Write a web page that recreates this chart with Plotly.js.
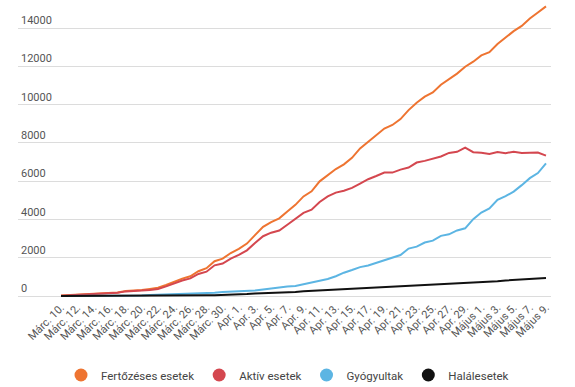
<!DOCTYPE html>
<html>
<head>
<meta charset="utf-8">
<script src="https://cdn.plot.ly/plotly-3.0.1.min.js"></script>
<style>
  html, body { margin: 0; padding: 0; background: #fff; }
  #chart { width: 575px; height: 387px; }
</style>
</head>
<body>
<div id="chart"></div>
<script>
// Dates (daily, Márc. 10. – Május 9.)
const dates = [
  "Márc. 10.","Márc. 11.","Márc. 12.","Márc. 13.","Márc. 14.","Márc. 15.","Márc. 16.","Márc. 17.","Márc. 18.","Márc. 19.",
  "Márc. 20.","Márc. 21.","Márc. 22.","Márc. 23.","Márc. 24.","Márc. 25.","Márc. 26.","Márc. 27.","Márc. 28.","Márc. 29.",
  "Márc. 30.","Márc. 31.",
  "Apr. 1.","Apr. 2.","Apr. 3.","Apr. 4.","Apr. 5.","Apr. 6.","Apr. 7.","Apr. 8.","Apr. 9.","Apr. 10.",
  "Apr. 11.","Apr. 12.","Apr. 13.","Apr. 14.","Apr. 15.","Apr. 16.","Apr. 17.","Apr. 18.","Apr. 19.","Apr. 20.",
  "Apr. 21.","Apr. 22.","Apr. 23.","Apr. 24.","Apr. 25.","Apr. 26.","Apr. 27.","Apr. 28.","Apr. 29.","Apr. 30.",
  "Május 1.","Május 2.","Május 3.","Május 4.","Május 5.","Május 6.","Május 7.","Május 8.","Május 9."
];

// Labelled ticks (every second day)
const tickLabels = [
  "Márc. 10.","Márc. 12.","Márc. 14.","Márc. 16.","Márc. 18.","Márc. 20.","Márc. 22.","Márc. 24.","Márc. 26.","Márc. 28.","Márc. 30.",
  "Apr. 1.","Apr. 3.","Apr. 5.","Apr. 7.","Apr. 9.","Apr. 11.","Apr. 13.","Apr. 15.","Apr. 17.","Apr. 19.","Apr. 21.",
  "Apr. 23.","Apr. 25.","Apr. 27.","Apr. 29.","Május 1.","Május 3.","Május 5.","Május 7.","Május 9."
];

const yTicks = [0, 2000, 4000, 6000, 8000, 10000, 12000, 14000];

// Fertőzéses esetek (confirmed cases)
const fertozeses = [
  25, 45, 49, 89, 123, 131, 158, 184, 260, 277,
  308, 367, 433, 576, 762, 906, 1029, 1292, 1452, 1815,
  1952, 2245,
  2460, 2738, 3183, 3613, 3864, 4057, 4417, 4761, 5202, 5467,
  5990, 6300, 6633, 6879, 7216, 7707, 8067, 8418, 8746, 8936,
  9242, 9710, 10096, 10417, 10635, 11036, 11339, 11616, 11978, 12240,
  12567, 12732, 13163, 13512, 13837, 14107, 14499, 14811, 15131
];

// Aktív esetek (active cases)
const aktiv = [
  19, 39, 43, 80, 114, 122, 139, 165, 241, 252,
  283, 315, 367, 501, 676, 809, 918, 1151, 1271, 1603,
  1698, 1956,
  2144, 2385, 2767, 3123, 3307, 3421, 3722, 4018, 4342, 4506,
  4912, 5200, 5400, 5500, 5650, 5870, 6100, 6267, 6449, 6445,
  6603, 6708, 6972, 7059, 7170, 7286, 7474, 7530, 7750, 7510,
  7482, 7414, 7520, 7460, 7540, 7470, 7480, 7490, 7330
];

// Gyógyultak (recovered)
const gyogyultak = [
  6, 6, 6, 9, 9, 9, 19, 19, 19, 25,
  25, 52, 64, 73, 79, 86, 94, 115, 144, 169,
  206, 220,
  231, 252, 283, 344, 406, 460, 498, 528, 612, 691,
  787, 888, 1033, 1217, 1357, 1508, 1597, 1730, 1846, 2013,
  2141, 2478, 2579, 2791, 2890, 3141, 3224, 3423, 3536, 4017,
  4360, 4574, 5027, 5216, 5454, 5791, 6155, 6423, 6932
];

// Halálesetek (deaths)
const halal = [
  0, 0, 0, 0, 0, 0, 0, 0, 0, 0,
  0, 0, 2, 2, 7, 11, 17, 26, 37, 43,
  48, 69,
  85, 101, 133, 146, 151, 176, 197, 215, 248, 270,
  291, 315, 328, 344, 372, 392, 411, 421, 451, 478,
  498, 524, 545, 567, 575, 609, 641, 663, 693, 713,
  725, 744, 771, 812, 842, 864, 888, 913, 939
];

const seriesNames = ["Fertőzéses esetek", "Aktív esetek", "Gyógyultak", "Halálesetek"];
const seriesData = [fertozeses, aktiv, gyogyultak, halal];
const colors = ["#ee7431", "#d4474f", "#5cb5e3", "#111111"];

const traces = [];
seriesData.forEach((vals, i) => {
  traces.push({
    type: "scatter", mode: "lines", x: dates, y: vals,
    name: seriesNames[i], showlegend: false, hoverinfo: "skip",
    line: { color: colors[i], width: 2, shape: "linear" },
    cliponaxis: false
  });
});
// legend entries (circle markers)
seriesNames.forEach((n, i) => {
  traces.push({
    type: "scatter", mode: "markers", x: [null], y: [null],
    name: n, showlegend: true,
    marker: { color: colors[i], size: 13, symbol: "circle" }
  });
});

const layout = {
  width: 575, height: 387,
  paper_bgcolor: "#ffffff", plot_bgcolor: "#ffffff",
  margin: { l: 18, r: 24, t: 2, b: 83, pad: 0 },
  font: { family: "Roboto, 'Noto Sans', sans-serif", color: "#555" },
  showlegend: true,
  legend: {
    orientation: "h", x: 0.5, xanchor: "center", xref: "container",
    y: 0.031, yanchor: "middle", yref: "container",
    font: { size: 11.5, color: "#444" },
    itemwidth: 30, tracegroupgap: 0, traceorder: "normal"
  },
  xaxis: {
    type: "category", categoryorder: "array", categoryarray: dates,
    range: [-5.32, 60.62],
    tickmode: "array", tickvals: tickLabels, ticktext: tickLabels,
    tickangle: -45, ticks: "", showgrid: false, zeroline: false,
    showline: false, ticklabelstandoff: -6,
    tickfont: { size: 11, color: "#555" },
    fixedrange: true
  },
  yaxis: {
    range: [-418, 15358],
    tickmode: "array", tickvals: yTicks,
    tickformat: "d",
    ticklabelposition: "inside top",
    ticks: "", showgrid: true, gridcolor: "#dcdcdc", gridwidth: 1,
    zeroline: true, zerolinecolor: "#dcdcdc", zerolinewidth: 1,
    showline: false,
    tickfont: { size: 11, color: "#555" },
    fixedrange: true
  }
};

Plotly.newPlot("chart", traces, layout, { displayModeBar: false, staticPlot: true });
</script>
</body>
</html>
